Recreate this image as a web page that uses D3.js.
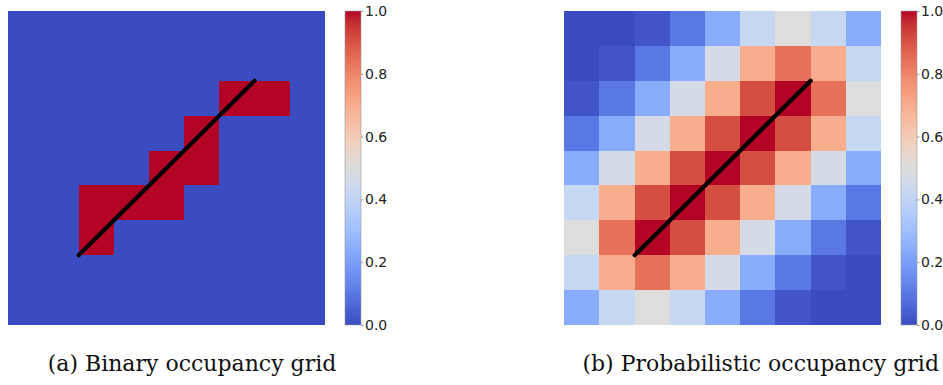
<!DOCTYPE html>
<html>
<head>
<meta charset="utf-8">
<script src="https://cdn.jsdelivr.net/npm/d3@7"></script>
<style>
  html, body { margin: 0; padding: 0; background: #fff; }
  svg { display: block; }
</style>
</head>
<body>
<svg id="chart" width="943" height="385"></svg>
<script>
// ---------------- data ----------------
const rows = [0, 1, 2, 3, 4, 5, 6, 7, 8];
const cols = [0, 1, 2, 3, 4, 5, 6, 7, 8];

// Binary occupancy grid (row 0 = top)
const binaryGrid = [
  [0, 0, 0, 0, 0, 0, 0, 0, 0],
  [0, 0, 0, 0, 0, 0, 0, 0, 0],
  [0, 0, 0, 0, 0, 0, 1, 1, 0],
  [0, 0, 0, 0, 0, 1, 0, 0, 0],
  [0, 0, 0, 0, 1, 1, 0, 0, 0],
  [0, 0, 1, 1, 1, 0, 0, 0, 0],
  [0, 0, 1, 0, 0, 0, 0, 0, 0],
  [0, 0, 0, 0, 0, 0, 0, 0, 0],
  [0, 0, 0, 0, 0, 0, 0, 0, 0]
];

const probGrid = [
  [0.00, 0.00, 0.02, 0.10, 0.24, 0.42, 0.50, 0.42, 0.24],
  [0.00, 0.02, 0.10, 0.24, 0.47, 0.70, 0.84, 0.70, 0.42],
  [0.02, 0.10, 0.24, 0.47, 0.70, 0.91, 1.00, 0.84, 0.50],
  [0.10, 0.24, 0.47, 0.70, 0.91, 1.00, 0.91, 0.70, 0.42],
  [0.24, 0.47, 0.70, 0.91, 1.00, 0.91, 0.70, 0.47, 0.24],
  [0.42, 0.70, 0.91, 1.00, 0.91, 0.70, 0.47, 0.24, 0.10],
  [0.50, 0.84, 1.00, 0.91, 0.70, 0.47, 0.24, 0.10, 0.02],
  [0.42, 0.70, 0.84, 0.70, 0.47, 0.24, 0.10, 0.02, 0.00],
  [0.24, 0.42, 0.50, 0.42, 0.24, 0.10, 0.02, 0.00, 0.00]
];

// Line segment in data coordinates (cell centres at integers)
const lineX = [1.5, 6.5];
const lineY = [6.5, 1.5];

const colorbarTicks = [0.0, 0.2, 0.4, 0.6, 0.8, 1.0];
const captions = ["(a) Binary occupancy grid", "(b) Probabilistic occupancy grid"];

// ---------------- colormap (matplotlib coolwarm) ----------------
const coolwarmStops = [
  [59,76,192],[68,90,204],[77,104,215],[87,117,225],[98,130,234],[108,142,241],
  [119,154,247],[130,165,251],[141,176,254],[152,185,255],[163,194,255],[174,201,253],
  [184,208,249],[194,213,244],[204,217,238],[213,219,230],[221,221,221],[229,216,209],
  [236,211,197],[241,204,184],[245,196,172],[247,187,159],[247,177,147],[247,166,134],
  [244,154,123],[241,141,111],[236,127,99],[229,112,88],[222,96,77],[213,80,66],
  [203,62,56],[192,40,47],[180,4,38]
].map(c => d3.rgb(c[0], c[1], c[2]).toString());
const cmap = d3.scaleLinear()
  .domain(coolwarmStops.map((_, i) => i / (coolwarmStops.length - 1)))
  .range(coolwarmStops)
  .interpolate(d3.interpolateRgb)
  .clamp(true);

// ---------------- layout ----------------
const svg = d3.select("#chart");
const defs = svg.append("defs");

const panels = [
  { grid: binaryGrid, x0: 8.3, w: 316.7, cbX: 345, caption: captions[0], capX: 192, anchor: "middle" },
  { grid: probGrid,   x0: 564.3, w: 316.7, cbX: 901, caption: captions[1], capX: 939, anchor: "end" }
];
const y0 = 11, h = 314, cbW = 16;

// gradient
const grad = defs.append("linearGradient")
  .attr("id", "cw").attr("x1", 0).attr("y1", 1).attr("x2", 0).attr("y2", 0);
coolwarmStops.forEach((c, i) => {
  grad.append("stop").attr("offset", i / (coolwarmStops.length - 1)).attr("stop-color", c);
});

panels.forEach((p, pi) => {
  const g = svg.append("g");
  const x = d3.scaleBand().domain(cols).range([p.x0, p.x0 + p.w]).padding(0);
  const y = d3.scaleBand().domain(rows).range([y0, y0 + h]).padding(0);
  const xl = d3.scaleLinear().domain([-0.5, 8.5]).range([p.x0, p.x0 + p.w]);
  const yl = d3.scaleLinear().domain([-0.5, 8.5]).range([y0, y0 + h]);

  const cells = [];
  rows.forEach(r => cols.forEach(c => cells.push({ r, c, v: p.grid[r][c] })));

  g.selectAll("rect.cell").data(cells).enter().append("rect")
    .attr("class", "cell")
    .attr("x", d => x(d.c))
    .attr("y", d => y(d.r))
    .attr("width", x.bandwidth() + 0.4)
    .attr("height", y.bandwidth() + 0.4)
    .attr("fill", d => cmap(d.v))
    .attr("shape-rendering", "crispEdges");

  g.append("line")
    .attr("x1", xl(lineX[0])).attr("y1", yl(lineY[0]))
    .attr("x2", xl(lineX[1])).attr("y2", yl(lineY[1]))
    .attr("stroke", "#000").attr("stroke-width", 4.2)
    .attr("stroke-linecap", "round");

  // colorbar
  const cb = svg.append("g");
  cb.append("rect")
    .attr("x", p.cbX).attr("y", y0).attr("width", cbW).attr("height", h)
    .attr("fill", "url(#cw)")
    .attr("stroke", "#9a9a9a").attr("stroke-width", 0.6);

  const cs = d3.scaleLinear().domain([0, 1]).range([y0 + h, y0]);
  const axis = d3.axisRight(cs).tickValues(colorbarTicks)
    .tickFormat(d3.format(".1f")).tickSize(2.5).tickPadding(1.5);
  const ax = cb.append("g").attr("transform", `translate(${p.cbX + cbW},0)`).call(axis);
  ax.select(".domain").remove();
  ax.selectAll(".tick line").attr("stroke", "#777").attr("stroke-width", 0.7);
  ax.selectAll(".tick text")
    .attr("fill", "#222")
    .style("font-family", "'DejaVu Sans', sans-serif")
    .style("font-size", "14px");

  // caption
  svg.append("text")
    .attr("x", p.capX).attr("y", 371)
    .attr("text-anchor", p.anchor)
    .style("font-family", "'DejaVu Serif', serif")
    .style("font-size", "22px")
    .attr("fill", "#111")
    .text(p.caption);
});
</script>
</body>
</html>
